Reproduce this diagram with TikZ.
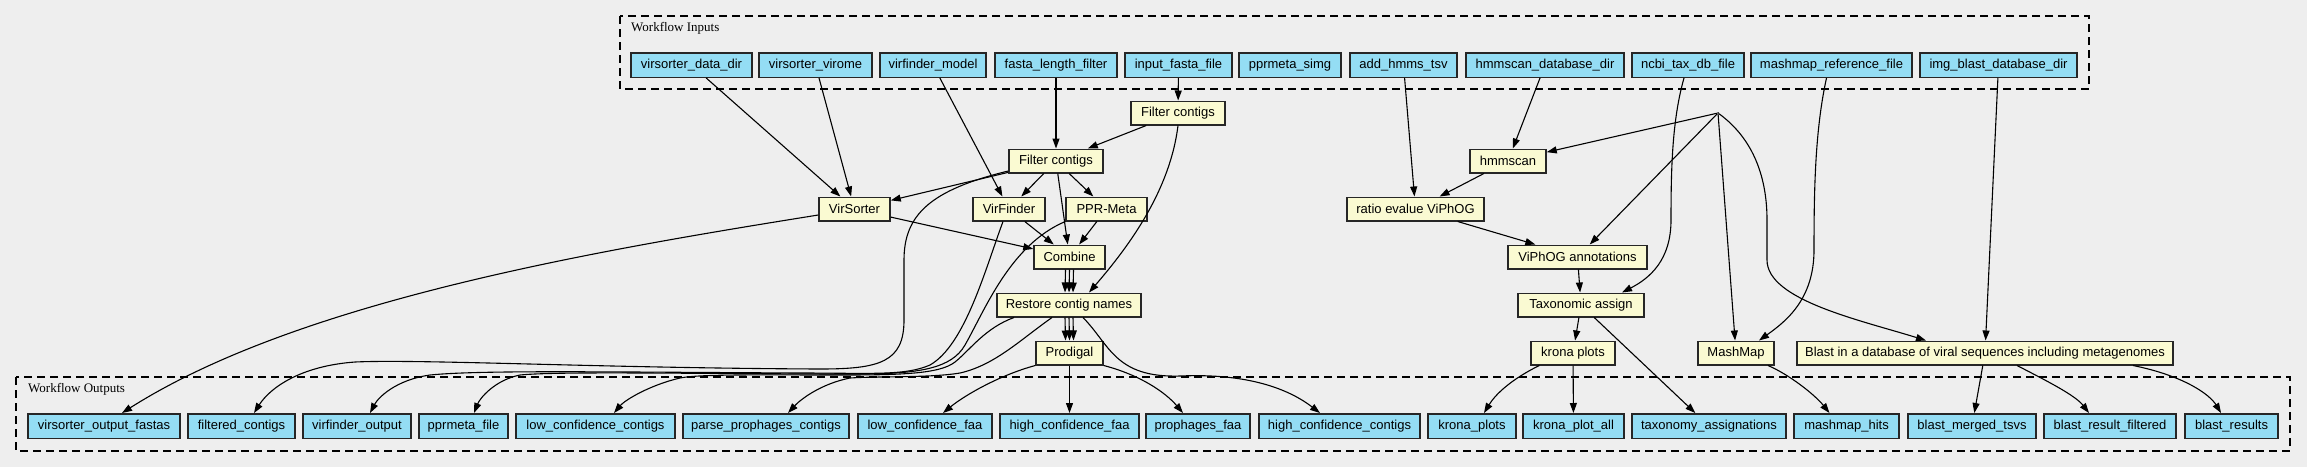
\documentclass[tikz,border=0pt]{standalone}
\usepackage{fontspec}
\setmainfont{Liberation Sans}
\newfontfamily\labelfont{Liberation Serif}
\usepackage{tikz}
\usetikzlibrary{arrows.meta}

\definecolor{bgcol}{HTML}{EEEEEE}
\definecolor{iofill}{HTML}{94DDF4}
\definecolor{stepfill}{HTML}{FAFAD2}

\begin{document}
\begin{tikzpicture}[x=1pt, y=-1pt, font=\fontsize{13}{15}\selectfont,
    iobox/.style={draw=black!85, line width=1.5pt, fill=iofill, minimum height=24.5pt, minimum width=#1, inner sep=0pt},
    stepbox/.style={draw=black!85, line width=1.5pt, fill=stepfill, minimum height=23.5pt, minimum width=#1, inner sep=0pt},
    edge/.style={line width=1.1pt, -{Triangle[length=10pt, width=7pt]}},
    cluster/.style={line width=1.2pt, dash pattern=on 8pt off 5pt}]

    % 0. Canvas
    \fill[bgcol] (0,0) rectangle (2307,467);
    \useasboundingbox (0,0) rectangle (2307,467);

    % Row heights
    \def\iny{65}
    \def\outy{426}

    % 1. Workflow inputs
    \draw[cluster] (620,16) rectangle (2089,89);
    \node[anchor=west, inner sep=0pt, font=\labelfont\fontsize{13}{15}\selectfont] (inlabel) at (631,28) {Workflow Inputs};
    \node[iobox=121] (vsdatadir) at (691.5,\iny) {virsorter\_data\_dir};
    \node[iobox=113] (vsvirome) at (815.5,\iny) {virsorter\_virome};
    \node[iobox=106] (vfmodel) at (933,\iny) {virfinder\_model};
    \node[iobox=122] (fastalen) at (1056,\iny) {fasta\_length\_filter};
    \node[iobox=107] (inputfasta) at (1178.5,\iny) {input\_fasta\_file};
    \node[iobox=102] (pprsimg) at (1290,\iny) {pprmeta\_simg};
    \node[iobox=107] (addhmms) at (1403.5,\iny) {add\_hmms\_tsv};
    \node[iobox=158] (hmmscandb) at (1545,\iny) {hmmscan\_database\_dir};
    \node[iobox=112] (ncbidb) at (1688,\iny) {ncbi\_tax\_db\_file};
    \node[iobox=161] (mashref) at (1831.5,\iny) {mashmap\_reference\_file};
    \node[iobox=157] (imgblast) at (1998.5,\iny) {img\_blast\_database\_dir};

    % 2. Workflow steps
    \node[stepbox=94] (filter1) at (1178,113) {Filter contigs};
    \node[stepbox=94] (filter2) at (1056,161) {Filter contigs};
    \node[stepbox=71] (virsorter) at (854.5,209) {VirSorter};
    \node[stepbox=72] (virfinder) at (1009,209) {VirFinder};
    \node[stepbox=81] (pprmeta) at (1106.5,209) {PPR-Meta};
    \node[stepbox=71] (combine) at (1069.5,257) {Combine};
    \node[stepbox=144] (restore) at (1069,305) {Restore contig names};
    \node[stepbox=67] (prodigal) at (1069.5,353) {Prodigal};
    \node[stepbox=76] (hmmscan) at (1508,161) {hmmscan};
    \node[stepbox=137] (ratio) at (1415.5,209) {ratio evalue ViPhOG};
    \node[stepbox=139] (viphog) at (1577.5,257) {ViPhOG annotations};
    \node[stepbox=126] (taxo) at (1581,305) {Taxonomic assign};
    \node[stepbox=84] (krona) at (1573,353) {krona plots};
    \node[stepbox=76] (mashmap) at (1736,353) {MashMap};
    \node[stepbox=376] (blast) at (1985,353) {Blast in a database of viral sequences including metagenomes};
    % unnamed source point
    \node[circle, fill=black, inner sep=0pt, minimum size=2pt] (join) at (1718,113) {};

    % 3. Workflow outputs
    \draw[cluster] (16,377) rectangle (2290,451);
    \node[anchor=west, inner sep=0pt, font=\labelfont\fontsize{13}{15}\selectfont] (outlabel) at (28,389) {Workflow Outputs};
    \node[iobox=152] (vsout) at (104,\outy) {virsorter\_output\_fastas};
    \node[iobox=107] (filtered) at (241.5,\outy) {filtered\_contigs};
    \node[iobox=108] (vfout) at (357,\outy) {virfinder\_output};
    \node[iobox=89] (pprfile) at (463.5,\outy) {pprmeta\_file};
    \node[iobox=159] (lowcc) at (595.5,\outy) {low\_confidence\_contigs};
    \node[iobox=166] (parse) at (766,\outy) {parse\_prophages\_contigs};
    \node[iobox=134] (lowfaa) at (925,\outy) {low\_confidence\_faa};
    \node[iobox=139] (highfaa) at (1069.5,\outy) {high\_confidence\_faa};
    \node[iobox=104] (prophfaa) at (1198,\outy) {prophages\_faa};
    \node[iobox=161] (highcc) at (1339.5,\outy) {high\_confidence\_contigs};
    \node[iobox=88] (kronaplots) at (1472,\outy) {krona\_plots};
    \node[iobox=101] (kronaall) at (1573.5,\outy) {krona\_plot\_all};
    \node[iobox=154] (taxassign) at (1709,\outy) {taxonomy\_assignations};
    \node[iobox=105] (mashhits) at (1846.5,\outy) {mashmap\_hits};
    \node[iobox=128] (blastmerged) at (1972,\outy) {blast\_merged\_tsvs};
    \node[iobox=132] (blastfilt) at (2110,\outy) {blast\_result\_filtered};
    \node[iobox=93] (blastres) at (2231.5,\outy) {blast\_results};

    % 4. Input edges
    \draw[edge] (vsdatadir) -- (virsorter);
    \draw[edge] (vsvirome) -- (virsorter);
    \draw[edge] (vfmodel) -- (virfinder);
    \draw[edge] (fastalen) -- (filter2);
    \draw[edge] (inputfasta) -- (filter1);
    \draw[edge] (addhmms) -- (ratio);
    \draw[edge] (hmmscandb) -- (hmmscan);
    \draw[edge] ([xshift=-4pt]ncbidb.south) .. controls (1672,120) and (1671,170) .. (1671,220)
        .. controls (1671,260) and (1650,278) .. ([xshift=41pt]taxo.north);
    \draw[edge] ([xshift=-5pt]mashref.south) .. controls (1815,130) and (1814,190) .. (1814,250)
        .. controls (1814,300) and (1785,322) .. ([xshift=23pt]mashmap.north);
    \draw[edge] (imgblast) -- (blast);

    % 5. Contig filtering and detection
    \draw[edge] (filter1) -- (filter2);
    \draw[edge] (filter1.south) .. controls (1170,190) and (1130,245) .. ([xshift=20pt]restore.north);
    \draw[edge] (filter2) -- (virsorter);
    \draw[edge] (filter2) -- (virfinder);
    \draw[edge] (filter2) -- (pprmeta);
    \draw[edge] (filter2) -- (combine);
    \draw[edge] (virsorter) -- (combine);
    \draw[edge] (virfinder) -- (combine);
    \draw[edge] (pprmeta) -- (combine);
    \foreach \dx in {-4,0,4} {
        \draw[edge] ([xshift=\dx pt]combine.south) -- ([xshift=\dx pt]restore.north);
        \draw[edge] ([xshift=\dx pt]restore.south) -- ([xshift=\dx pt]prodigal.north);
    }

    % 6. Long edges to the outputs
    \draw[edge] ([yshift=-6pt]virsorter.west) .. controls (600,250) and (300,300) .. ([xshift=18pt]vsout.north);
    \draw[edge] ([yshift=-10pt]filter2.west) .. controls (930,190) and (904,215) .. (904,260) -- (904,320)
        .. controls (904,362) and (880,369) .. (820,369) .. controls (600,368) and (420,359) .. (355,362)
        .. controls (300,366) and (270,388) .. ([xshift=12.5pt]filtered.north);
    \draw[edge] ([xshift=-6pt]virfinder.south) .. controls (985,270) and (965,345) .. (930,365)
        .. controls (905,376) and (870,373) .. (800,373) .. controls (600,372) and (480,370) .. (430,375)
        .. controls (395,380) and (378,398) .. ([xshift=13pt]vfout.north);
    \draw[edge] (pprmeta.south west) .. controls (1010,245) and (985,310) .. (965,345)
        .. controls (952,368) and (920,374) .. (860,374) .. controls (700,374) and (560,371) .. (520,375)
        .. controls (495,380) and (480,398) .. ([xshift=10.5pt]pprfile.north);
    \draw[edge] ([xshift=-55pt]restore.south) .. controls (985,328) and (970,350) .. (955,362)
        .. controls (940,374) and (900,375) .. (840,375) .. controls (760,375) and (700,374) .. (680,378)
        .. controls (650,385) and (625,400) .. ([xshift=18.5pt]lowcc.north);
    \draw[edge] ([xshift=-17pt]restore.south) .. controls (1020,340) and (995,365) .. (960,373)
        .. controls (930,378) and (880,376) .. (850,378)
        .. controls (820,384) and (800,400) .. ([xshift=22pt]parse.north);
    \draw[edge] ([xshift=14pt]restore.south) .. controls (1110,345) and (1115,378) .. (1180,376)
        .. controls (1250,373) and (1290,390) .. ([xshift=-19.5pt]highcc.north);
    \draw[edge] (prodigal.south west) .. controls (1000,375) and (965,395) .. ([xshift=18pt]lowfaa.north);
    \draw[edge] (prodigal) -- (highfaa);
    \draw[edge] (prodigal.south east) .. controls (1140,375) and (1165,392) .. ([xshift=-15pt]prophfaa.north);

    % 7. Annotation branch
    \draw[edge] (join) -- (hmmscan);
    \draw[edge] (join) -- (viphog);
    \draw[edge] (join) -- (mashmap);
    \draw[edge] (join) .. controls (1755,140) and (1767,180) .. (1767,220) -- (1767,260)
        .. controls (1767,300) and (1860,320) .. ([xshift=-59pt]blast.north);
    \draw[edge] (hmmscan) -- (ratio);
    \draw[edge] (ratio) -- (viphog);
    \draw[edge] (viphog) -- (taxo);
    \draw[edge] (taxo) -- (krona);
    \draw[edge] (taxo) -- (taxassign);
    \draw[edge] ([xshift=9pt]krona.south west) .. controls (1510,380) and (1495,395) .. ([xshift=12pt]kronaplots.north);
    \draw[edge] (krona) -- (kronaall);
    \draw[edge] ([xshift=32pt]mashmap.south) .. controls (1790,375) and (1815,395) .. ([xshift=-17pt]mashhits.north);
    \draw[edge] (blast) -- (blastmerged);
    \draw[edge] ([xshift=32pt]blast.south) .. controls (2045,380) and (2075,395) .. ([xshift=-21pt]blastfilt.north);
    \draw[edge] ([xshift=148pt]blast.south) .. controls (2185,376) and (2210,395) .. ([xshift=-10.5pt]blastres.north);

\end{tikzpicture}
\end{document}
